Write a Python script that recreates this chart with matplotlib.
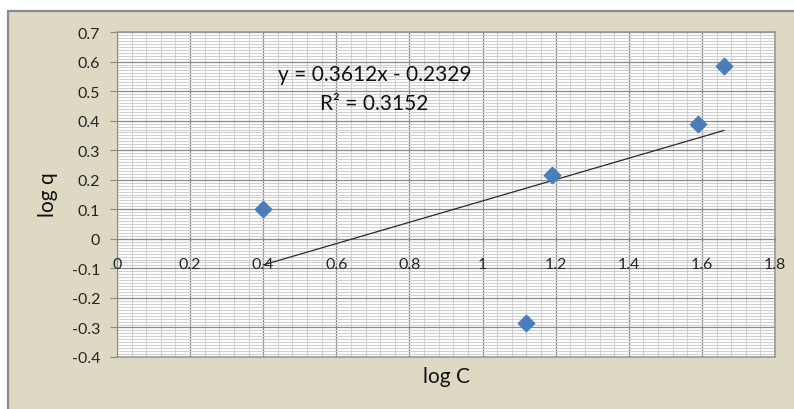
import matplotlib
matplotlib.use("Agg")
import matplotlib.pyplot as plt
import numpy as np
from matplotlib.patches import Rectangle
from matplotlib.ticker import MultipleLocator
import matplotlib.transforms as mtransforms

# Isotherm data (log C vs log q)
log_c = [0.4, 1.12, 1.19, 1.59, 1.66]
log_q = [0.10, -0.284, 0.216, 0.39, 0.584]

# Linear trendline reported on the chart
slope = 0.3612
intercept = -0.2329
r_squared = 0.3152

plt.rcParams['font.family'] = ['Lato', 'DejaVu Sans']

fig = plt.figure(figsize=(7.94, 4.10), dpi=100)
fig.patch.set_facecolor('white')

# chart area background with grey border
W, H = 794, 410
bg = Rectangle((8 / W, -0.01), 1.0, (H - 12) / H + 0.01,
               transform=fig.transFigure, facecolor='#DDD9C3',
               edgecolor='#8C8C8C', linewidth=1.6, zorder=-10)
fig.add_artist(bg)

ax = fig.add_axes([117 / W, 1 - 358 / H, (775 - 117) / W, (358 - 33) / H])
ax.set_zorder(5)
ax.set_facecolor('white')
ax.set_xlim(0, 1.8)
ax.set_ylim(-0.4, 0.7)

ax.xaxis.set_minor_locator(MultipleLocator(0.04))
ax.yaxis.set_minor_locator(MultipleLocator(0.01))

ax.grid(which='minor', color='#D0D0D0', linewidth=0.8)
ax.grid(which='major', color='#8A8A8A', linewidth=0.9)
ax.set_axisbelow(True)

for s in ['top', 'right']:
    ax.spines[s].set_color('#9A9A9A')
    ax.spines[s].set_linewidth(1.2)
ax.spines['left'].set_color('#8A8A8A')
ax.spines['bottom'].set_position(('data', 0))
ax.spines['bottom'].set_color('#8A8A8A')

# frame bottom edge of plot area
ax.plot([0, 1.8], [-0.4, -0.4], color='#9A9A9A', lw=1.2, clip_on=False, zorder=1)

def fmt(v):
    s = f"{v:.1f}"
    if s in ("0.0", "-0.0"):
        return "0"
    if s.endswith(".0"):
        s = s[:-2]
    return s

xt = np.arange(0, 1.81, 0.2)
yt = np.arange(-0.4, 0.71, 0.1)
ax.set_xticks(xt)
ax.set_xticklabels([])
ax.set_yticks(yt)
ax.set_yticklabels([fmt(v) for v in yt])

ax.tick_params(axis='both', which='minor', length=0)
ax.tick_params(axis='y', which='major', length=5, color='#8A8A8A',
               labelsize=11.5, labelcolor='#262626', pad=7)
ax.tick_params(axis='x', which='major', length=4, color='#8A8A8A',
               direction='inout')

# x tick labels sit just below the horizontal axis (y = 0), above the grid
offset = mtransforms.ScaledTranslation(0, -25 / 100, fig.dpi_scale_trans)
for v in xt:
    ax.text(v, 0, fmt(v), transform=ax.transData + offset, fontsize=11.5,
            color='#262626', ha='center', va='center', zorder=6)

# axis titles
fig.text(446 / W, 1 - 377 / H, 'log C', fontsize=15, color='#111111',
         ha='center', va='center')
fig.text(48 / W, 1 - 195 / H, 'log q', fontsize=15, color='#111111',
         ha='center', va='center', rotation=90)

# trendline across data range
xs = np.array([min(log_c), max(log_c)])
ax.plot(xs, slope * xs + intercept, color='#2A2A2A', lw=0.9, zorder=3)

ax.scatter(log_c, log_q, marker='D', s=70, color='#4A7EBB',
           edgecolors='#4A7EBB', zorder=4, clip_on=False)

ax.text(0.704, 0.558, f"y = {slope:.4f}x - {abs(intercept):.4f}",
        fontsize=15, ha='center', va='center', color='#111111')
ax.text(0.704, 0.46, f"R² = {r_squared:.4f}",
        fontsize=15, ha='center', va='center', color='#111111')

fig.savefig('out.png', dpi=100)
